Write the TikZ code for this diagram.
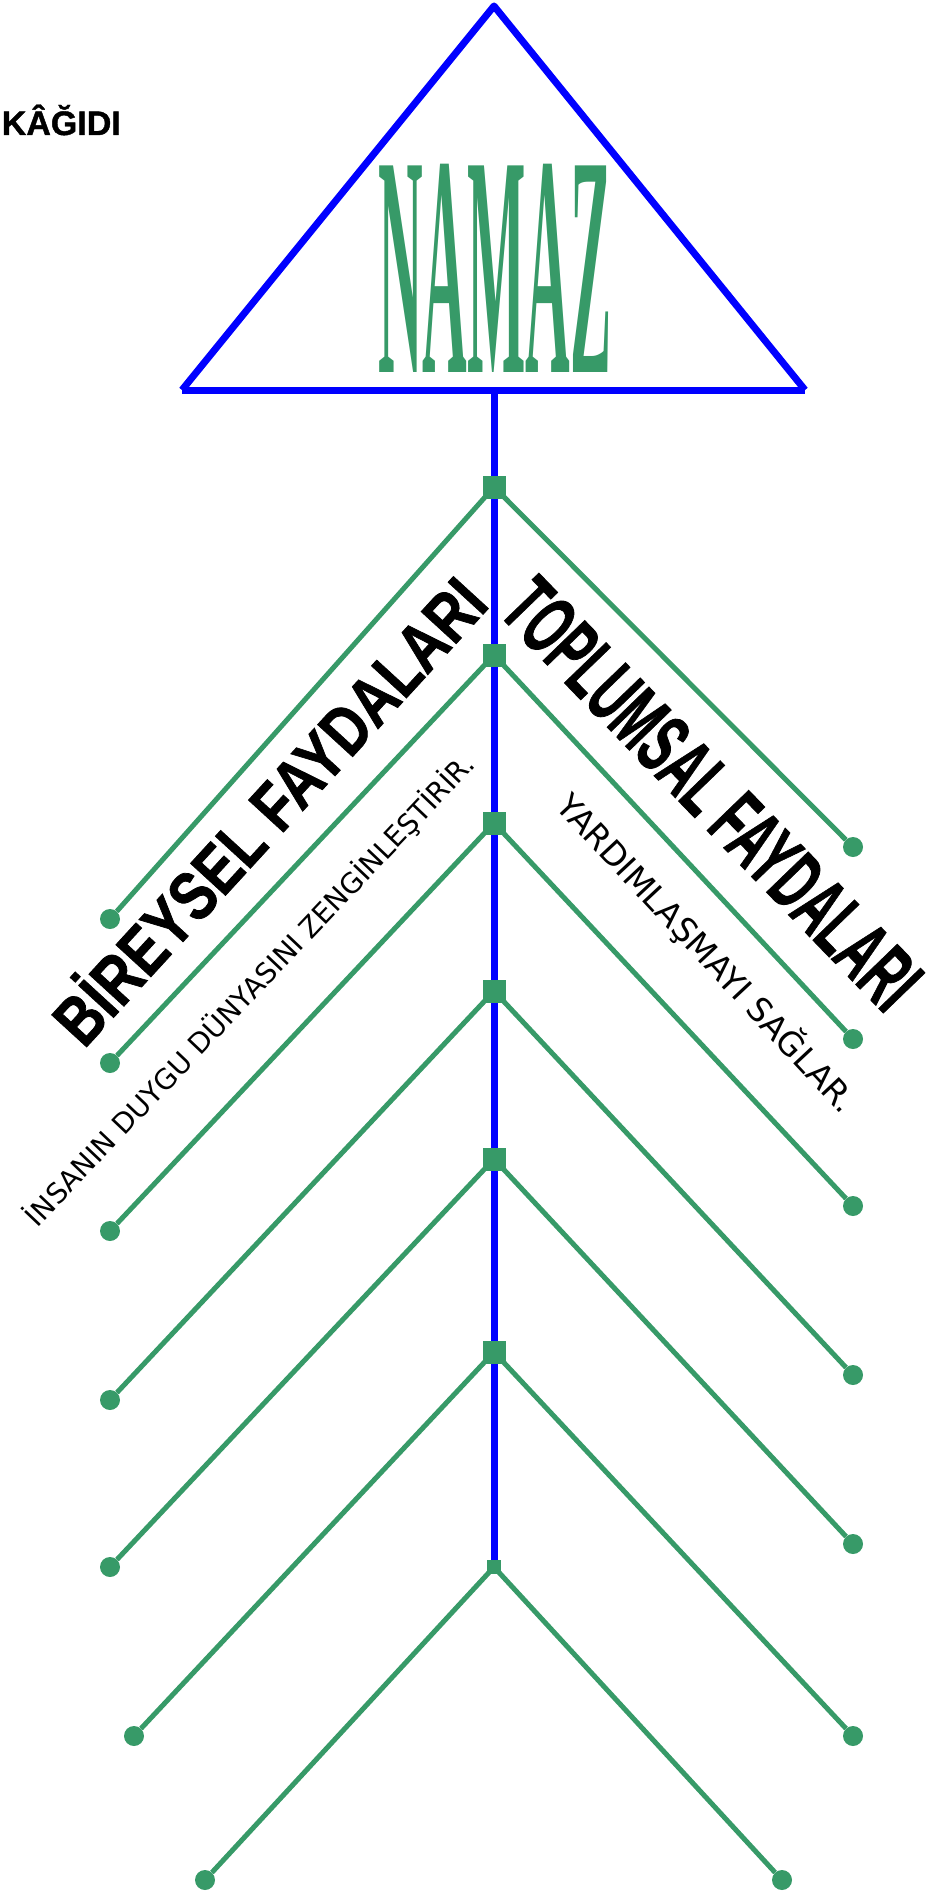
\documentclass[tikz,border=0pt]{standalone}
\usepackage{fontspec}
\setmainfont{Liberation Sans}
\newfontfamily\heavyfont[BoldFeatures={FakeBold=1.2}]{Liberation Sans}
\newfontfamily\namazfont{Liberation Serif}
\newfontfamily\notefont{DejaVu Sans}
\usepackage{graphicx}
\definecolor{namazgreen}{RGB}{55,154,104}

\begin{document}
\begin{tikzpicture}[
    x=1pt, y=-1pt,
    every node/.style={text=black, inner sep=0pt},
    spine/.style={blue, line width=7pt},
    branch/.style={namazgreen, line width=5pt},
    hub/.style={rectangle, fill=namazgreen, minimum size=23pt}, % squares on the spine
    dot/.style={circle, fill=namazgreen, minimum size=20pt}    % round branch ends
]
    \useasboundingbox (0,0) rectangle (934,1894);

    % --- TRIANGLE WITH TITLE ---
    \coordinate (apex) at (494,6);
    \coordinate (baseL) at (182,390);
    \coordinate (baseR) at (805,390);
    \coordinate (baseM) at (494,390);
    \draw[spine, line join=round] (baseL) -- (apex) -- (baseR);
    \draw[spine] (baseL) -- (baseR);

    \node[anchor=base, text=namazgreen] (namaz) at (495,372)
        {\namazfont\bfseries\fontsize{60}{60}\selectfont\scalebox{1.03}[5.26]{NAMAZ}};

    \node[anchor=base east] (sheet) at (121,135)
        {\heavyfont\bfseries\fontsize{34}{34}\selectfont KÂĞIDI};

    % --- SPINE POINTS ---
    \coordinate (S1) at (494,487);
    \coordinate (S2) at (494,655);
    \coordinate (S3) at (494,823);
    \coordinate (S4) at (494,991);
    \coordinate (S5) at (494,1159);
    \coordinate (S6) at (494,1352);
    \coordinate (S7) at (494,1567);

    % Branch ends, left
    \node[dot] (L1) at (110,919) {};
    \node[dot] (L2) at (110,1063) {};
    \node[dot] (L3) at (110,1231) {};
    \node[dot] (L4) at (110,1400) {};
    \node[dot] (L5) at (110,1567) {};
    \node[dot] (L6) at (134,1736) {};
    \node[dot] (L7) at (205,1880) {};

    % Branch ends, right
    \node[dot] (R1) at (853,847) {};
    \node[dot] (R2) at (853,1039) {};
    \node[dot] (R3) at (853,1206) {};
    \node[dot] (R4) at (853,1375) {};
    \node[dot] (R5) at (853,1544) {};
    \node[dot] (R6) at (853,1736) {};
    \node[dot] (R7) at (782,1880) {};

    % Branches
    \draw[branch] (L1) -- (S1) -- (R1);
    \draw[branch] (L2) -- (S2) -- (R2);
    \draw[branch] (L3) -- (S3) -- (R3);
    \draw[branch] (L4) -- (S4) -- (R4);
    \draw[branch] (L5) -- (S5) -- (R5);
    \draw[branch] (L6) -- (S6) -- (R6);
    \draw[branch] (L7) -- (S7) -- (R7);

    % Spine over the branches
    \draw[spine] (baseM) -- (S7);

    % Squares
    \node[hub] (hub1) at (S1) {};
    \node[hub] (hub2) at (S2) {};
    \node[hub] (hub3) at (S3) {};
    \node[hub] (hub4) at (S4) {};
    \node[hub] (hub5) at (S5) {};
    \node[hub] (hub6) at (S6) {};
    \node[hub, minimum size=14pt] (hub7) at (S7) {};

    % --- LABELS ALONG THE BRANCHES ---
    \node[rotate=47.5] (bireysel) at (266,808)
        {\heavyfont\bfseries\fontsize{69}{69}\selectfont\scalebox{0.8}[1]{BİREYSEL FAYDALARI}};
    \node[rotate=-46] (toplumsal) at (712,794)
        {\heavyfont\bfseries\fontsize{84}{84}\selectfont\scalebox{0.55}[1]{TOPLUMSAL FAYDALARI}};
    \node[rotate=46.5] (duygu) at (250,990)
        {\notefont\fontsize{28}{28}\selectfont İNSANIN DUYGU DÜNYASINI ZENGİNLEŞTİRİR.};
    \node[rotate=-47] (yardim) at (707,953)
        {\notefont\fontsize{33}{33}\selectfont YARDIMLAŞMAYI SAĞLAR.};

\end{tikzpicture}
\end{document}
